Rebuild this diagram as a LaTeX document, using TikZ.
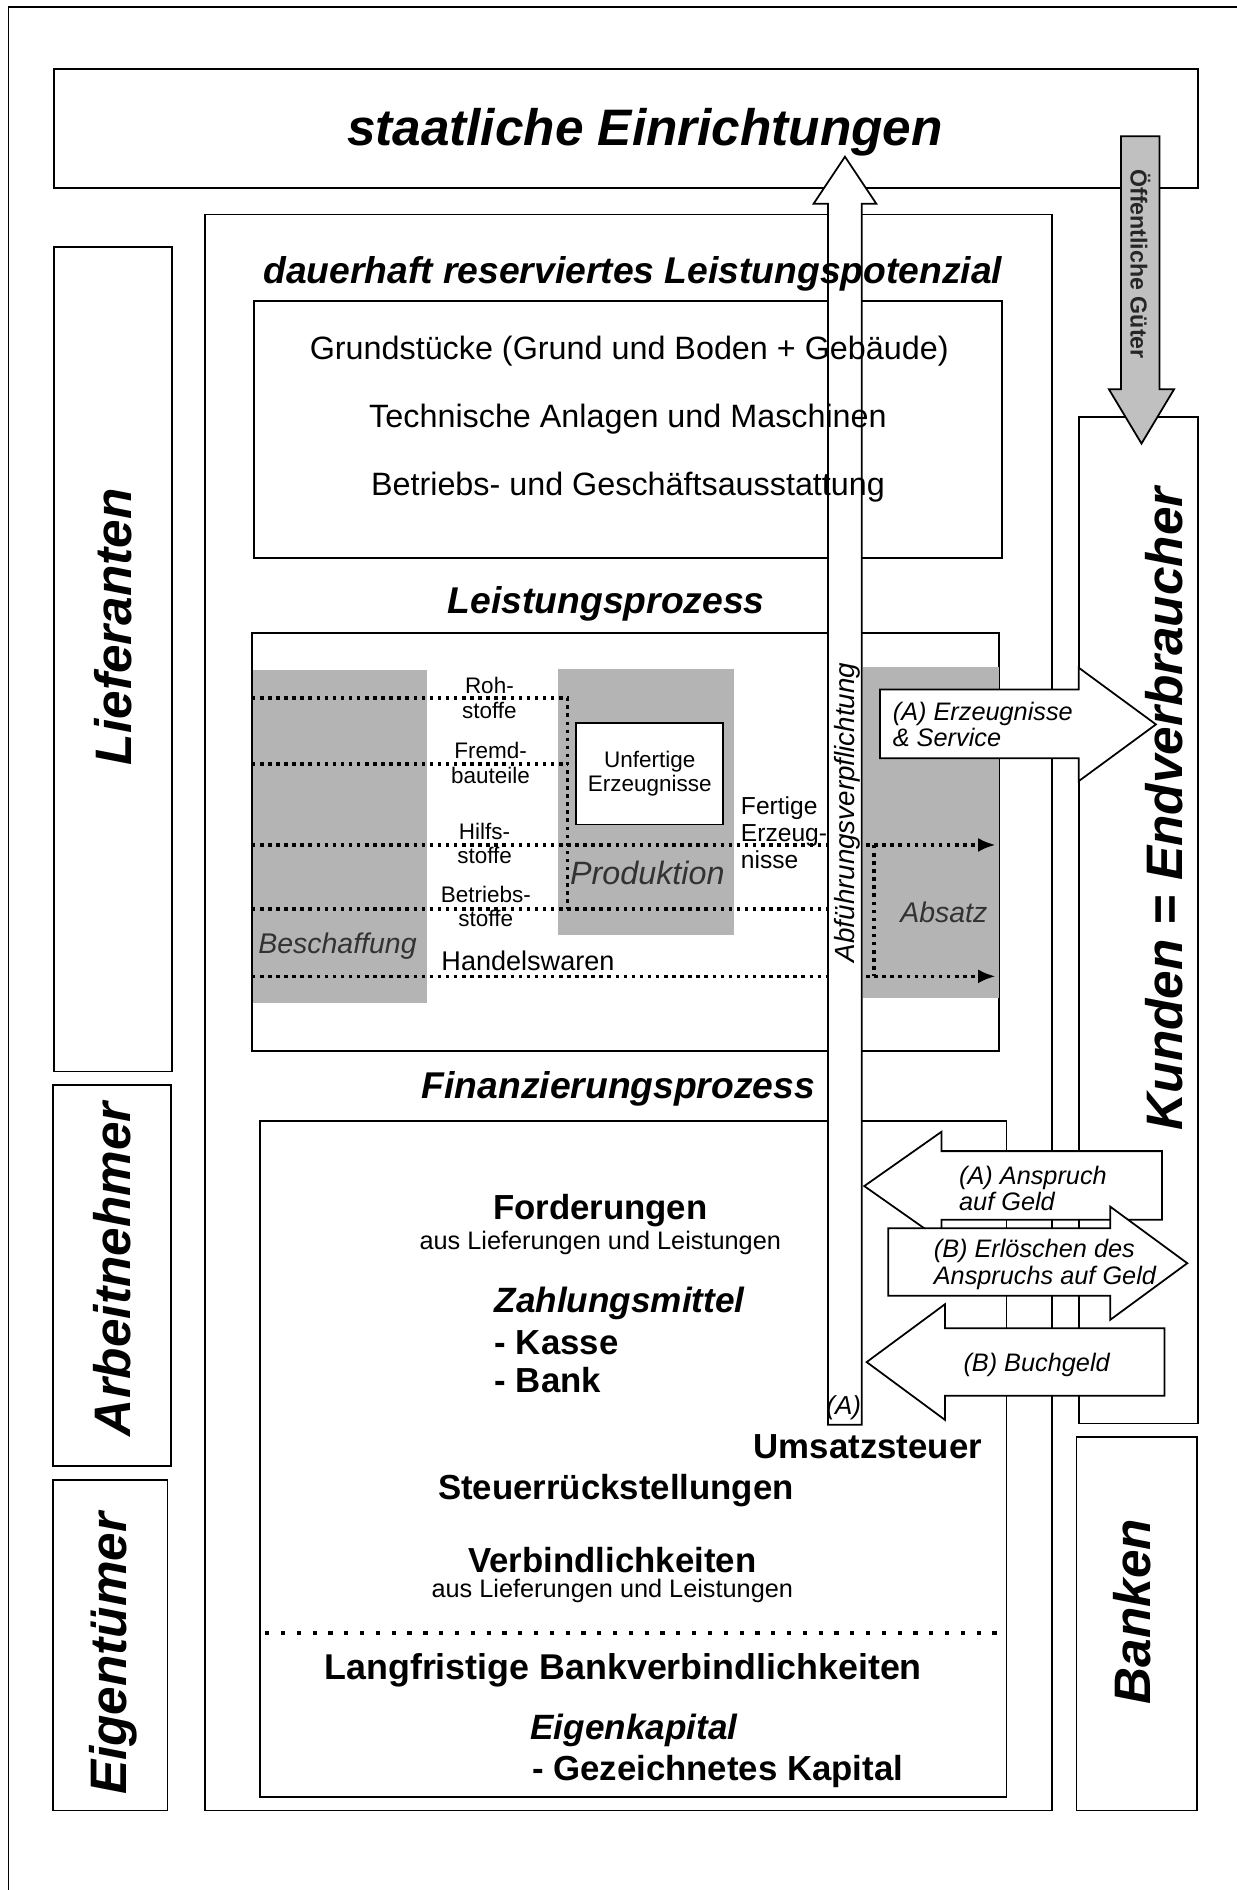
\documentclass[tikz,border=0pt]{standalone}
\usepackage{fontspec}
\setmainfont{Liberation Sans}
\usetikzlibrary{arrows.meta}

\definecolor{blockgray}{RGB}{180,180,180}
\definecolor{arrowgray}{RGB}{192,192,192}
\definecolor{labelgray}{RGB}{50,50,50}

\begin{document}
\begin{tikzpicture}[x=0.12057mm, y=-0.12057mm, line width=0.5pt,
    panel/.style={draw=black, fill=white},
    grayblock/.style={fill=blockgray},
    flow/.style={line width=1pt, dash pattern=on 1pt off 1.3pt},
    blockarrow/.style={draw=black, fill=white, line width=0.5pt},
    sidelabel/.style={rotate=90, font=\fontsize{14.6}{17}\selectfont\bfseries\itshape},
    heading/.style={font=\fontsize{10.6}{12}\selectfont\bfseries\itshape},
    asset/.style={font=\fontsize{9.2}{11}\selectfont},
    stuff/.style={font=\fontsize{6.4}{6.9}\selectfont, align=center, inner sep=0pt},
    process/.style={font=\fontsize{8.1}{10}\selectfont\itshape, text=labelgray},
    money/.style={font=\fontsize{7.2}{7.3}\selectfont\itshape, align=left, inner sep=0pt},
    item/.style={font=\fontsize{9.9}{12}\selectfont\bfseries},
    itemit/.style={font=\fontsize{10}{12}\selectfont\bfseries\itshape},
    note/.style={font=\fontsize{7.2}{8.6}\selectfont}
  ]
    \useasboundingbox (0,0) rectangle (1026,1568);

    % Scan frame
    \draw (7,6) -- (1026,6);
    \draw (7,6) -- (7,1568);

    % Outer boxes
    \draw[panel] (45,57) rectangle (994,156);
    \draw[panel] (45,205) rectangle (143,889);
    \draw[panel] (44,900) rectangle (142,1216);
    \draw[panel] (44,1228) rectangle (139,1502);
    \draw[panel] (170,178) rectangle (873,1502);
    \draw[panel] (895,346) rectangle (994,1181);
    \draw[panel] (893,1192) rectangle (993,1502);

    % Inner boxes
    \draw[panel] (211,250) rectangle (831,463);
    \draw[panel] (209,525) rectangle (829,872);
    \draw[panel] (216,930) rectangle (835,1491);

    % Leistungsprozess blocks
    \fill[grayblock] (210,556) rectangle (354,832);
    \fill[grayblock] (463,555) rectangle (609,776);
    \fill[grayblock] (716,553) rectangle (829,828);
    \draw[panel] (478,600) rectangle (600,684);

    % Material flows
    \draw[flow] (209,579) -- (471,579) -- (471,754);
    \draw[flow] (209,634) -- (471,634);
    \draw[flow, -{Latex[length=5pt,width=4pt]}] (209,701) -- (826,701);
    \draw[flow] (209,754) -- (700,754);
    \draw[flow, -{Latex[length=5pt,width=4pt]}] (209,810) -- (826,810);
    \draw[flow] (725,701) -- (725,810);

    % Dividing line in Finanzierungsprozess
    \draw[line width=1.2pt, dash pattern=on 1.2pt off 3.3pt] (220,1355) -- (835,1355);

    % Block arrows
    \draw[blockarrow] (687,1182) -- (687,169) -- (675,169) -- (701,130)
        -- (727,169) -- (715,169) -- (715,1182) -- cycle;
    \draw[draw=black, fill=arrowgray, line width=0.5pt] (930,113) -- (962,113)
        -- (962,323) -- (974,323) -- (947,368) -- (920,323) -- (930,323) -- cycle;
    \draw[blockarrow] (730,572) -- (895,572) -- (895,554) -- (959,601)
        -- (895,648) -- (895,629) -- (730,629) -- cycle;
    \draw[blockarrow] (964,955) -- (781,955) -- (781,939) -- (717,984)
        -- (781,1029) -- (781,1012) -- (964,1012) -- cycle;
    \draw[blockarrow] (737,1019) -- (921,1019) -- (921,1001) -- (985,1048)
        -- (921,1095) -- (921,1075) -- (737,1075) -- cycle;
    \draw[blockarrow] (966,1102) -- (784,1102) -- (784,1082) -- (719,1130)
        -- (784,1178) -- (784,1158) -- (966,1158) -- cycle;

    % Titles
    \node[font=\fontsize{14.6}{17}\selectfont\bfseries\itshape] (staat) at (535,110) {staatliche Einrichtungen};
    \node[heading] (potenzial) at (525,227) {dauerhaft reserviertes Leistungspotenzial};
    \node[heading] (leistung) at (503,501) {Leistungsprozess};
    \node[heading] (finanz) at (513,903) {Finanzierungsprozess};

    % Side labels
    \node[sidelabel] (liefer) at (94,520) {Lieferanten};
    \node[sidelabel] (arbeit) at (93,1053) {Arbeitnehmer};
    \node[sidelabel] (eigen) at (94,1372) {Eigentümer};
    \node[sidelabel] (kunden) at (966,671) {Kunden = Endverbraucher};
    \node[sidelabel] (banken) at (939,1337) {Banken};

    % Leistungspotenzial
    \node[asset] (grund) at (522,291) {Grundstücke (Grund und Boden + Gebäude)};
    \node[asset] (technik) at (521,348) {Technische Anlagen und Maschinen};
    \node[asset] (ausstattung) at (521,404) {Betriebs- und Geschäftsausstattung};

    % Leistungsprozess
    \node[stuff] (roh) at (406,579) {Roh-\\stoffe};
    \node[stuff] (fremd) at (407,633) {Fremd-\\bauteile};
    \node[stuff] (hilfs) at (402,700) {Hilfs-\\stoffe};
    \node[stuff] (betriebs) at (403,752) {Betriebs-\\stoffe};
    \node[font=\fontsize{7.7}{9}\selectfont] (handel) at (438,797) {Handelswaren};
    \node[stuff] (unfertig) at (539,642) {Unfertige\\Erzeugnisse};
    \node[stuff, font=\fontsize{7}{7.6}\selectfont, align=left, anchor=west] (fertig) at (614,691) {Fertige\\Erzeug-\\nisse};
    \node[process] (beschaffung) at (280,785) {Beschaffung};
    \node[process, font=\fontsize{9.2}{11}\selectfont\itshape] (produktion) at (537,724) {Produktion};
    \node[process] (absatz) at (783,757) {Absatz};
    \node[money, anchor=west] (erzeugnisse) at (740,601) {(A) Erzeugnisse\\\& Service};
    \node[rotate=90, font=\fontsize{7.9}{9}\selectfont\itshape] (abfuehrung) at (703,674) {Abführungsverpflichtung};
    \node[rotate=-90, font=\fontsize{6.6}{8}\selectfont\bfseries, text=black!85] (oeffentlich) at (946,219) {Öffentliche Güter};

    % Finanzierungsprozess
    \node[money, anchor=west] (anspruch) at (795,986) {(A) Anspruch\\auf Geld};
    \node[money, anchor=west, font=\fontsize{7.2}{7.9}\selectfont\itshape] (erloeschen) at (774,1049) {(B) Erlöschen des\\Anspruchs auf Geld};
    \node[money] (buchgeld) at (860,1132) {(B) Buchgeld};
    \node[font=\fontsize{7.4}{9}\selectfont\itshape] (steuerA) at (700,1168) {(A)};
    \node[item] (forderungen) at (498,1004) {Forderungen};
    \node[note] (fordaus) at (498,1031) {aus Lieferungen und Leistungen};
    \node[itemit] (zahlung) at (514,1081) {Zahlungsmittel};
    \node[item, anchor=west] (kasse) at (400,1114) {- Kasse};
    \node[item, anchor=west] (bank) at (400,1145) {- Bank};
    \node[item] (umsatz) at (720,1200) {Umsatzsteuer};
    \node[item] (rueck) at (511,1237) {Steuerrückstellungen};
    \node[item] (verbind) at (508,1294) {Verbindlichkeiten};
    \node[note] (verbaus) at (508,1320) {aus Lieferungen und Leistungen};
    \node[item, font=\fontsize{10.2}{12}\selectfont\bfseries] (langfrist) at (517,1386) {Langfristige Bankverbindlichkeiten};
    \node[itemit] (eigenkap) at (526,1436) {Eigenkapital};
    \node[item, anchor=west] (gezeichnet) at (431,1470) {- Gezeichnetes Kapital};
\end{tikzpicture}
\end{document}
